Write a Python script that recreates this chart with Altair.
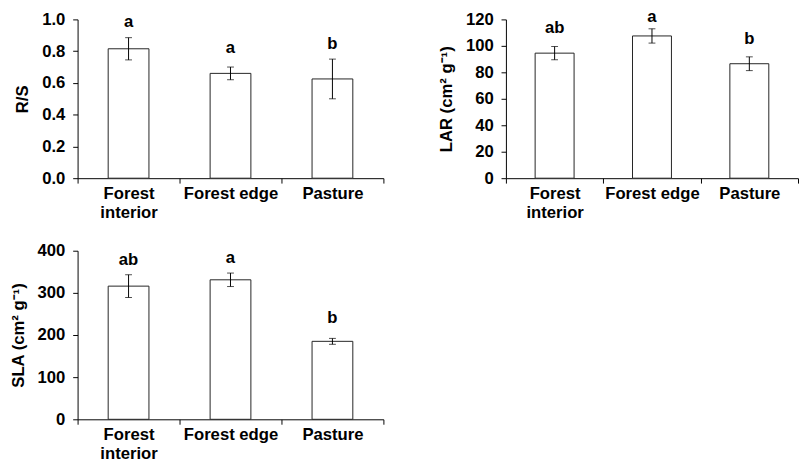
import altair as alt
import pandas as pd

categories = ["Forest interior", "Forest edge", "Pasture"]

rs_mean = [0.815, 0.66, 0.625]
rs_err = [0.07, 0.04, 0.125]
rs_letters = ["a", "a", "b"]
rs_letter_y = [0.982, 0.819, 0.843]

lar_mean = [94.5, 107.5, 86.5]
lar_err = [5.0, 5.4, 5.2]
lar_letters = ["ab", "a", "b"]
lar_letter_y = [113.7, 121.7, 105.3]

sla_mean = [316, 331, 185]
sla_err = [27, 16, 7]
sla_letters = ["ab", "a", "b"]
sla_letter_y = [378, 382, 241]

FONT = "Liberation Sans"
FS = 17
LABEL_EXPR = "datum.label == 'Forest interior' ? ['Forest', 'interior'] : datum.label"


def panel(mean, err, letters, letter_y, title, ymax, step, fmt, w, h):
    df = pd.DataFrame(
        {"cat": categories, "mean": mean, "err": err, "letter": letters, "ly": letter_y}
    )
    xaxis = alt.Axis(
        labelAngle=0,
        tickBand="extent",
        labelExpr=LABEL_EXPR,
        labelPadding=3,
        tickSize=5,
        labelLineHeight=19,
        labelBaseline="top",
        labelOverlap=False,
    )
    xscale = alt.Scale(paddingInner=0, paddingOuter=0)
    x = alt.X("cat:N", sort=categories, title=None, scale=xscale, axis=xaxis)
    yscale = alt.Scale(domain=[0, ymax], nice=False)
    nsteps = int(round(ymax / step))
    yaxis = alt.Axis(
        values=[round(i * step, 4) for i in range(nsteps + 1)],
        format=fmt,
        tickSize=5,
        labelPadding=8,
        titlePadding=10,
        labelOverlap=False,
    )

    def Y(field):
        return alt.Y(field, scale=yscale, title=title, axis=yaxis)

    base = alt.Chart(df).transform_calculate(
        lo="datum.mean - datum.err", hi="datum.mean + datum.err"
    )
    bars = base.mark_bar(
        width=alt.RelativeBandSize(0.4), fill="white", stroke="#222", strokeWidth=1
    ).encode(x=x, y=Y("mean:Q"))
    rule = base.mark_rule(color="black", strokeWidth=1).encode(
        x=x, y=Y("lo:Q"), y2="hi:Q"
    )
    cap_lo = base.mark_tick(color="black", size=7, thickness=1).encode(x=x, y=Y("lo:Q"))
    cap_hi = base.mark_tick(color="black", size=7, thickness=1).encode(x=x, y=Y("hi:Q"))
    text = base.mark_text(
        font=FONT, fontSize=FS, fontWeight="bold", baseline="middle", color="black"
    ).encode(x=x, y=Y("ly:Q"), text="letter:N")
    return alt.layer(bars, rule, cap_lo, cap_hi, text).properties(width=w, height=h)


p1 = panel(rs_mean, rs_err, rs_letters, rs_letter_y, "R/S", 1.0, 0.2, ".1f", 312, 162)
p2 = panel(lar_mean, lar_err, lar_letters, lar_letter_y, "LAR (cm² g⁻¹)", 120, 20, "d", 298, 162)
p3 = panel(sla_mean, sla_err, sla_letters, sla_letter_y, "SLA (cm² g⁻¹)", 400, 100, "d", 312, 172)

top = alt.hconcat(p1, p2, spacing=54)
chart = (
    alt.vconcat(top, p3, spacing=22)
    .properties(padding={"left": 1, "top": -5, "right": 0, "bottom": 0})
    .configure_view(stroke=None)
    .configure_axis(
        labelFont=FONT,
        labelFontSize=FS,
        labelFontWeight="bold",
        labelColor="black",
        titleFont=FONT,
        titleFontSize=FS,
        titleFontWeight="bold",
        titleColor="black",
        domainColor="black",
        tickColor="black",
        grid=False,
    )
)

chart.save("out.html", embed_options={"renderer": "svg", "actions": False})
